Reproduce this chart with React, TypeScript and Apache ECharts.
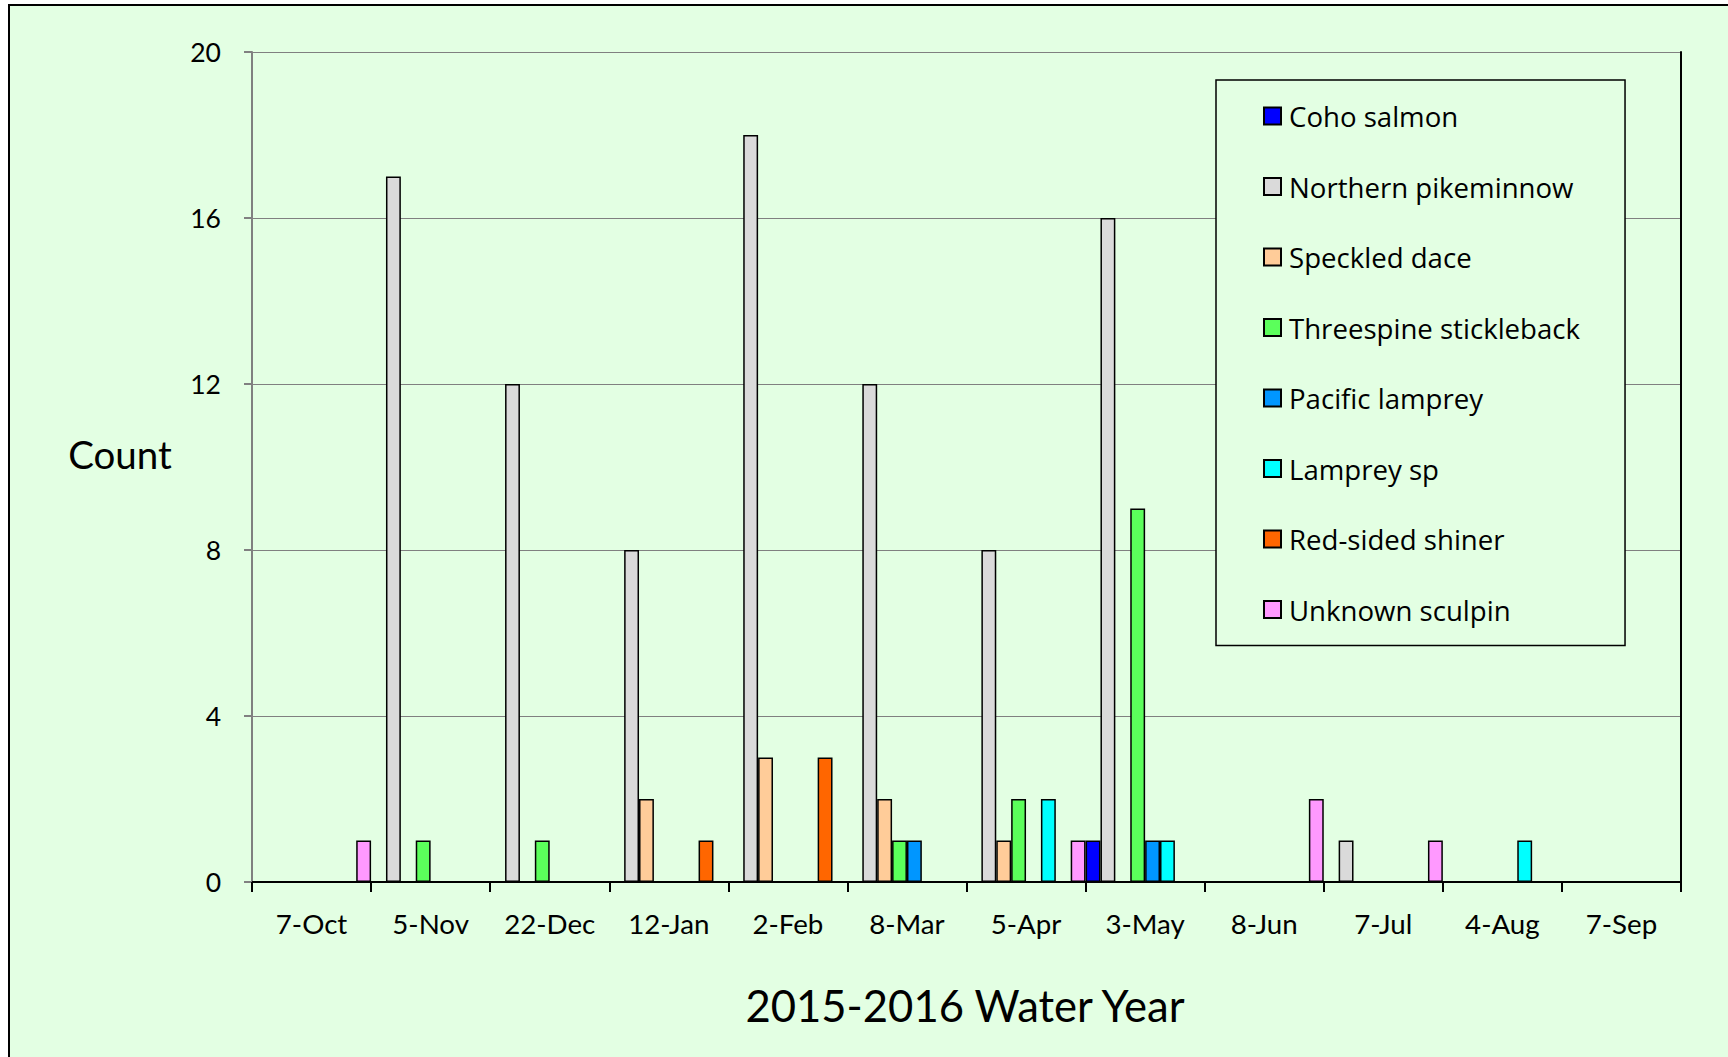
import React, { useEffect, useRef } from "react";
import * as echarts from "echarts";

const categories = ["7-Oct", "5-Nov", "22-Dec", "12-Jan", "2-Feb", "8-Mar", "5-Apr", "3-May", "8-Jun", "7-Jul", "4-Aug", "7-Sep"];
const cohoSalmon = [0, 0, 0, 0, 0, 0, 0, 1, 0, 0, 0, 0];
const northernPikeminnow = [0, 17, 12, 8, 18, 12, 8, 16, 0, 1, 0, 0];
const speckledDace = [0, 0, 0, 2, 3, 2, 1, 0, 0, 0, 0, 0];
const threespineStickleback = [0, 1, 1, 0, 0, 1, 2, 9, 0, 0, 0, 0];
const pacificLamprey = [0, 0, 0, 0, 0, 1, 0, 1, 0, 0, 0, 0];
const lampreySp = [0, 0, 0, 0, 0, 0, 2, 1, 0, 0, 1, 0];
const redSidedShiner = [0, 0, 0, 1, 3, 0, 0, 0, 0, 0, 0, 0];
const unknownSculpin = [1, 0, 0, 0, 0, 0, 1, 0, 2, 1, 0, 0];
const yTicks = { min: 0, max: 20, interval: 4 };

const seriesDefs = [
  { name: "Coho salmon", data: cohoSalmon, color: "#0000FF" },
  { name: "Northern pikeminnow", data: northernPikeminnow, color: "#DADADA" },
  { name: "Speckled dace", data: speckledDace, color: "#FFCC99" },
  { name: "Threespine stickleback", data: threespineStickleback, color: "#5BFF5B" },
  { name: "Pacific lamprey", data: pacificLamprey, color: "#0096FF" },
  { name: "Lamprey sp", data: lampreySp, color: "#00FFFF" },
  { name: "Red-sided shiner", data: redSidedShiner, color: "#FF6600" },
  { name: "Unknown sculpin", data: unknownSculpin, color: "#FF99FF" },
];

const FONT = "Lato";

export default function App() {
  const ref = useRef<HTMLDivElement>(null);
  useEffect(() => {
    document.body.style.margin = "0";
    const chart = echarts.init(ref.current!, null, { renderer: "svg" });
    chart.setOption({
      animation: false,
      backgroundColor: "#FFFFFF",
      textStyle: { fontFamily: FONT },
      graphic: [
        {
          type: "rect",
          z: -10,
          shape: { x: 9, y: 5, width: 1760, height: 1100 },
          style: { fill: "#E3FFE3", stroke: "#000000", lineWidth: 2 },
        },
        {
          type: "text",
          x: 120,
          y: 454,
          style: { text: "Count", fontSize: 38.5, fontFamily: FONT, fill: "#000", align: "center", verticalAlign: "middle" },
        },
        {
          type: "text",
          x: 965,
          y: 1005,
          style: { text: "2015-2016 Water Year", fontSize: 43.6, fontFamily: FONT, fill: "#000", align: "center", verticalAlign: "middle" },
        },
      ],
      grid: { left: 252, top: 52, right: 47, bottom: 175, containLabel: false },
      legend: {
        orient: "vertical",
        left: 1216,
        top: 80,
        padding: [21, 45, 21, 47],
        icon: "rect",
        itemWidth: 17,
        itemHeight: 17,
        itemGap: 40.5,
        backgroundColor: "#E3FFE3",
        borderColor: "#000000",
        borderWidth: 1.5,
        textStyle: { fontFamily: "Open Sans", fontSize: 27.6, color: "#000", lineHeight: 30, padding: [0, 0, 0, 3] },
        data: seriesDefs.map((s) => s.name),
      },
      xAxis: [
        {
          type: "category",
          data: categories,
          position: "bottom",
          axisLine: { lineStyle: { color: "#000", width: 2 } },
          axisTick: { show: true, alignWithLabel: false, length: 10, lineStyle: { color: "#000", width: 2 } },
          axisLabel: { fontSize: 27.7, color: "#000", margin: 27, fontFamily: FONT, interval: 0 },
          splitLine: { show: false },
        },
        {
          type: "category",
          data: categories,
          position: "top",
          axisLine: { lineStyle: { color: "#000", width: 2 } },
          axisTick: { show: false },
          axisLabel: { show: false },
        },
      ],
      yAxis: [
        {
          type: "value",
          min: yTicks.min,
          max: yTicks.max,
          interval: yTicks.interval,
          axisLine: { show: true, lineStyle: { color: "#808080", width: 2 } },
          axisTick: { show: true, length: 8, lineStyle: { color: "#808080", width: 2 } },
          axisLabel: { fontSize: 26.5, color: "#000", margin: 31, fontFamily: FONT },
          splitLine: { show: true, lineStyle: { color: "#808080", width: 1.2 } },
        },
        {
          type: "value",
          position: "right",
          min: yTicks.min,
          max: yTicks.max,
          interval: yTicks.interval,
          axisLine: { show: true, lineStyle: { color: "#000", width: 2 } },
          axisTick: { show: false },
          axisLabel: { show: false },
          splitLine: { show: false },
        },
      ],
      series: seriesDefs.map((s) => ({
        name: s.name,
        type: "bar",
        data: s.data,
        barGap: "0%",
        barCategoryGap: "0%",
        itemStyle: { color: s.color, borderColor: "#000", borderWidth: 1.5 },
      })),
    });
    return () => chart.dispose();
  }, []);
  return <div ref={ref} style={{ width: 1728, height: 1057 }} />;
}
